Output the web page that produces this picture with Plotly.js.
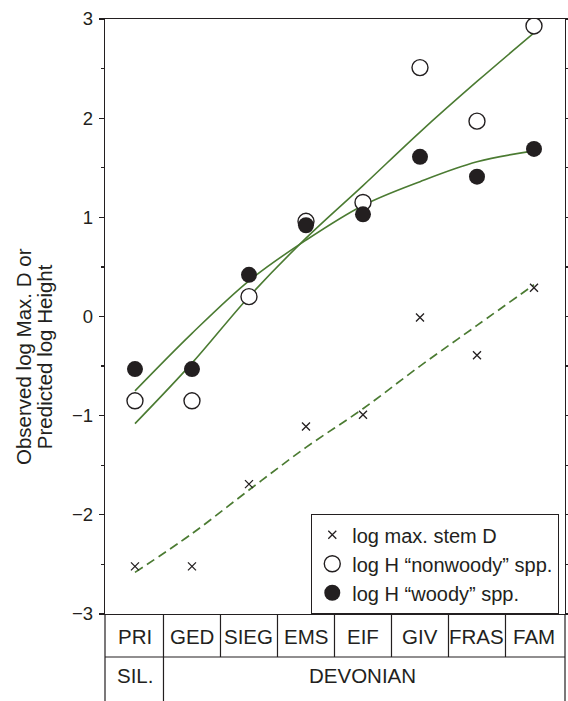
<!DOCTYPE html>
<html>
<head>
<meta charset="utf-8">
<script src="https://cdn.plot.ly/plotly-3.0.1.min.js"></script>
<style>html,body{margin:0;padding:0;background:#fff;}#chart{width:568px;height:701px;}</style>
</head>
<body>
<div id="chart"></div>
<script>
// Stages (x categories)
const stages = ['PRI', 'GED', 'SIEG', 'EMS', 'EIF', 'GIV', 'FRAS', 'FAM'];
// Periods: label with first/last stage index
const periodLabels = ['SIL.', 'DEVONIAN'];
const periodFirst = [0, 1];
const periodLast = [0, 7];

// Observed values
const logMaxStemD = [-2.52, -2.52, -1.69, -1.11, -0.99, -0.01, -0.39, 0.29];
const logHNonwoody = [-0.85, -0.85, 0.20, 0.96, 1.15, 2.51, 1.97, 2.93];
const logHWoody = [-0.53, -0.53, 0.42, 0.92, 1.03, 1.61, 1.41, 1.69];

// Fitted curves
const fitNonwoody = [-1.08, -0.47, 0.20, 0.79, 1.32, 1.86, 2.37, 2.86];
const fitWoody = [-0.75, -0.17, 0.36, 0.77, 1.12, 1.36, 1.56, 1.67];
const fitStemD = [-2.58, -2.19, -1.75, -1.32, -0.93, -0.50, -0.09, 0.32];

const yTicks = [-3, -2, -1, 0, 1, 2, 3];

const ink = '#231f20';
const green = '#4b7b32';
const font = 'Liberation Sans, Arial, Helvetica, sans-serif';
const idx = stages.map((s, i) => i);

const traces = [
  {x: idx, y: fitStemD, mode: 'lines', line: {color: green, width: 1.7, dash: '9px,5px', shape: 'spline', smoothing: 1}, showlegend: false, hoverinfo: 'skip'},
  {x: idx, y: fitNonwoody, mode: 'lines', line: {color: green, width: 1.6, shape: 'spline', smoothing: 1}, showlegend: false, hoverinfo: 'skip'},
  {x: idx, y: fitWoody, mode: 'lines', line: {color: green, width: 1.6, shape: 'spline', smoothing: 1}, showlegend: false, hoverinfo: 'skip'},
  {x: idx, y: logMaxStemD, mode: 'markers', name: 'log max. stem D',
   marker: {symbol: 'x-thin-open', size: 8, color: ink, line: {color: ink, width: 1.3}}},
  {x: idx, y: logHNonwoody, mode: 'markers', name: 'log H \u201cnonwoody\u201d spp.',
   marker: {symbol: 'circle', size: 16, color: '#ffffff', line: {color: ink, width: 1.4}}},
  {x: idx, y: logHWoody, mode: 'markers', name: 'log H \u201cwoody\u201d spp.',
   marker: {symbol: 'circle', size: 16, color: ink, line: {color: ink, width: 0}}}
];

// Table geometry (paper coordinates relative to plot area)
const row1Bottom = -0.0723;
const tableBottom = -0.16;
const shapes = [];
const lineStyle = {color: ink, width: 1.2};
shapes.push({type: 'line', xref: 'paper', yref: 'paper', x0: 0, x1: 1, y0: row1Bottom, y1: row1Bottom, line: lineStyle});
shapes.push({type: 'line', xref: 'paper', yref: 'paper', x0: 0, x1: 0, y0: 0, y1: tableBottom, line: lineStyle});
shapes.push({type: 'line', xref: 'paper', yref: 'paper', x0: 1, x1: 1, y0: 0, y1: tableBottom, line: lineStyle});
for (let i = 0; i < stages.length - 1; i++) {
  const xb = i + 0.5;
  const isPeriodBoundary = periodLast.slice(0, -1).includes(i);
  shapes.push({type: 'line', xref: 'x', yref: 'paper', x0: xb, x1: xb, y0: 0, y1: isPeriodBoundary ? tableBottom : row1Bottom, line: lineStyle});
}

const tableFont = {family: font, size: 20.5, color: ink};
const annotations = [];
stages.forEach((s, i) => {
  annotations.push({x: i, y: -0.037, xref: 'x', yref: 'paper', text: s, showarrow: false,
    xanchor: 'center', yanchor: 'middle', font: tableFont});
});
periodLabels.forEach((p, k) => {
  annotations.push({x: (periodFirst[k] + periodLast[k]) / 2, y: -0.104, xref: 'x', yref: 'paper', text: p, showarrow: false,
    xanchor: 'center', yanchor: 'middle', font: tableFont});
});
// y-axis title (two lines)
annotations.push({x: -0.176, y: 0.432, xref: 'paper', yref: 'paper', text: 'Observed log Max. D or', textangle: -90,
  showarrow: false, xanchor: 'center', yanchor: 'middle', font: {family: font, size: 20.5, color: ink}});
annotations.push({x: -0.130, y: 0.432, xref: 'paper', yref: 'paper', text: 'Predicted log Height', textangle: -90,
  showarrow: false, xanchor: 'center', yanchor: 'middle', font: {family: font, size: 20.5, color: ink}});

const layout = {
  width: 568, height: 701,
  margin: {l: 105, r: 3, t: 19, b: 87, pad: 0},
  paper_bgcolor: '#ffffff', plot_bgcolor: '#ffffff',
  font: {family: font, color: ink},
  showlegend: true,
  legend: {x: 0.448, y: 0.168, xanchor: 'left', yanchor: 'top', bgcolor: '#ffffff',
    bordercolor: ink, borderwidth: 1.2, font: {family: font, size: 20, color: ink},
    tracegroupgap: 0, itemclick: false},
  xaxis: {range: [-0.526, 7.544], showticklabels: false, ticks: '', showgrid: false, zeroline: false,
    showline: true, linecolor: ink, linewidth: 1.2, mirror: true, fixedrange: true},
  yaxis: {range: [-3, 3], tickvals: yTicks, ticks: 'outside', ticklen: 5, tickwidth: 1.2, tickcolor: ink,
    ticklabelstandoff: 2,
    showline: true, linecolor: ink, linewidth: 1.2, mirror: 'ticks', showgrid: false, zeroline: false,
    tickfont: {family: font, size: 18.5, color: ink},
    minor: {dtick: 0.5, tick0: 0, ticks: 'outside', ticklen: 3, tickwidth: 1.2, tickcolor: ink, showgrid: false},
    fixedrange: true},
  shapes: shapes,
  annotations: annotations
};

Plotly.newPlot('chart', traces, layout, {displayModeBar: false, staticPlot: true});
</script>
</body>
</html>
